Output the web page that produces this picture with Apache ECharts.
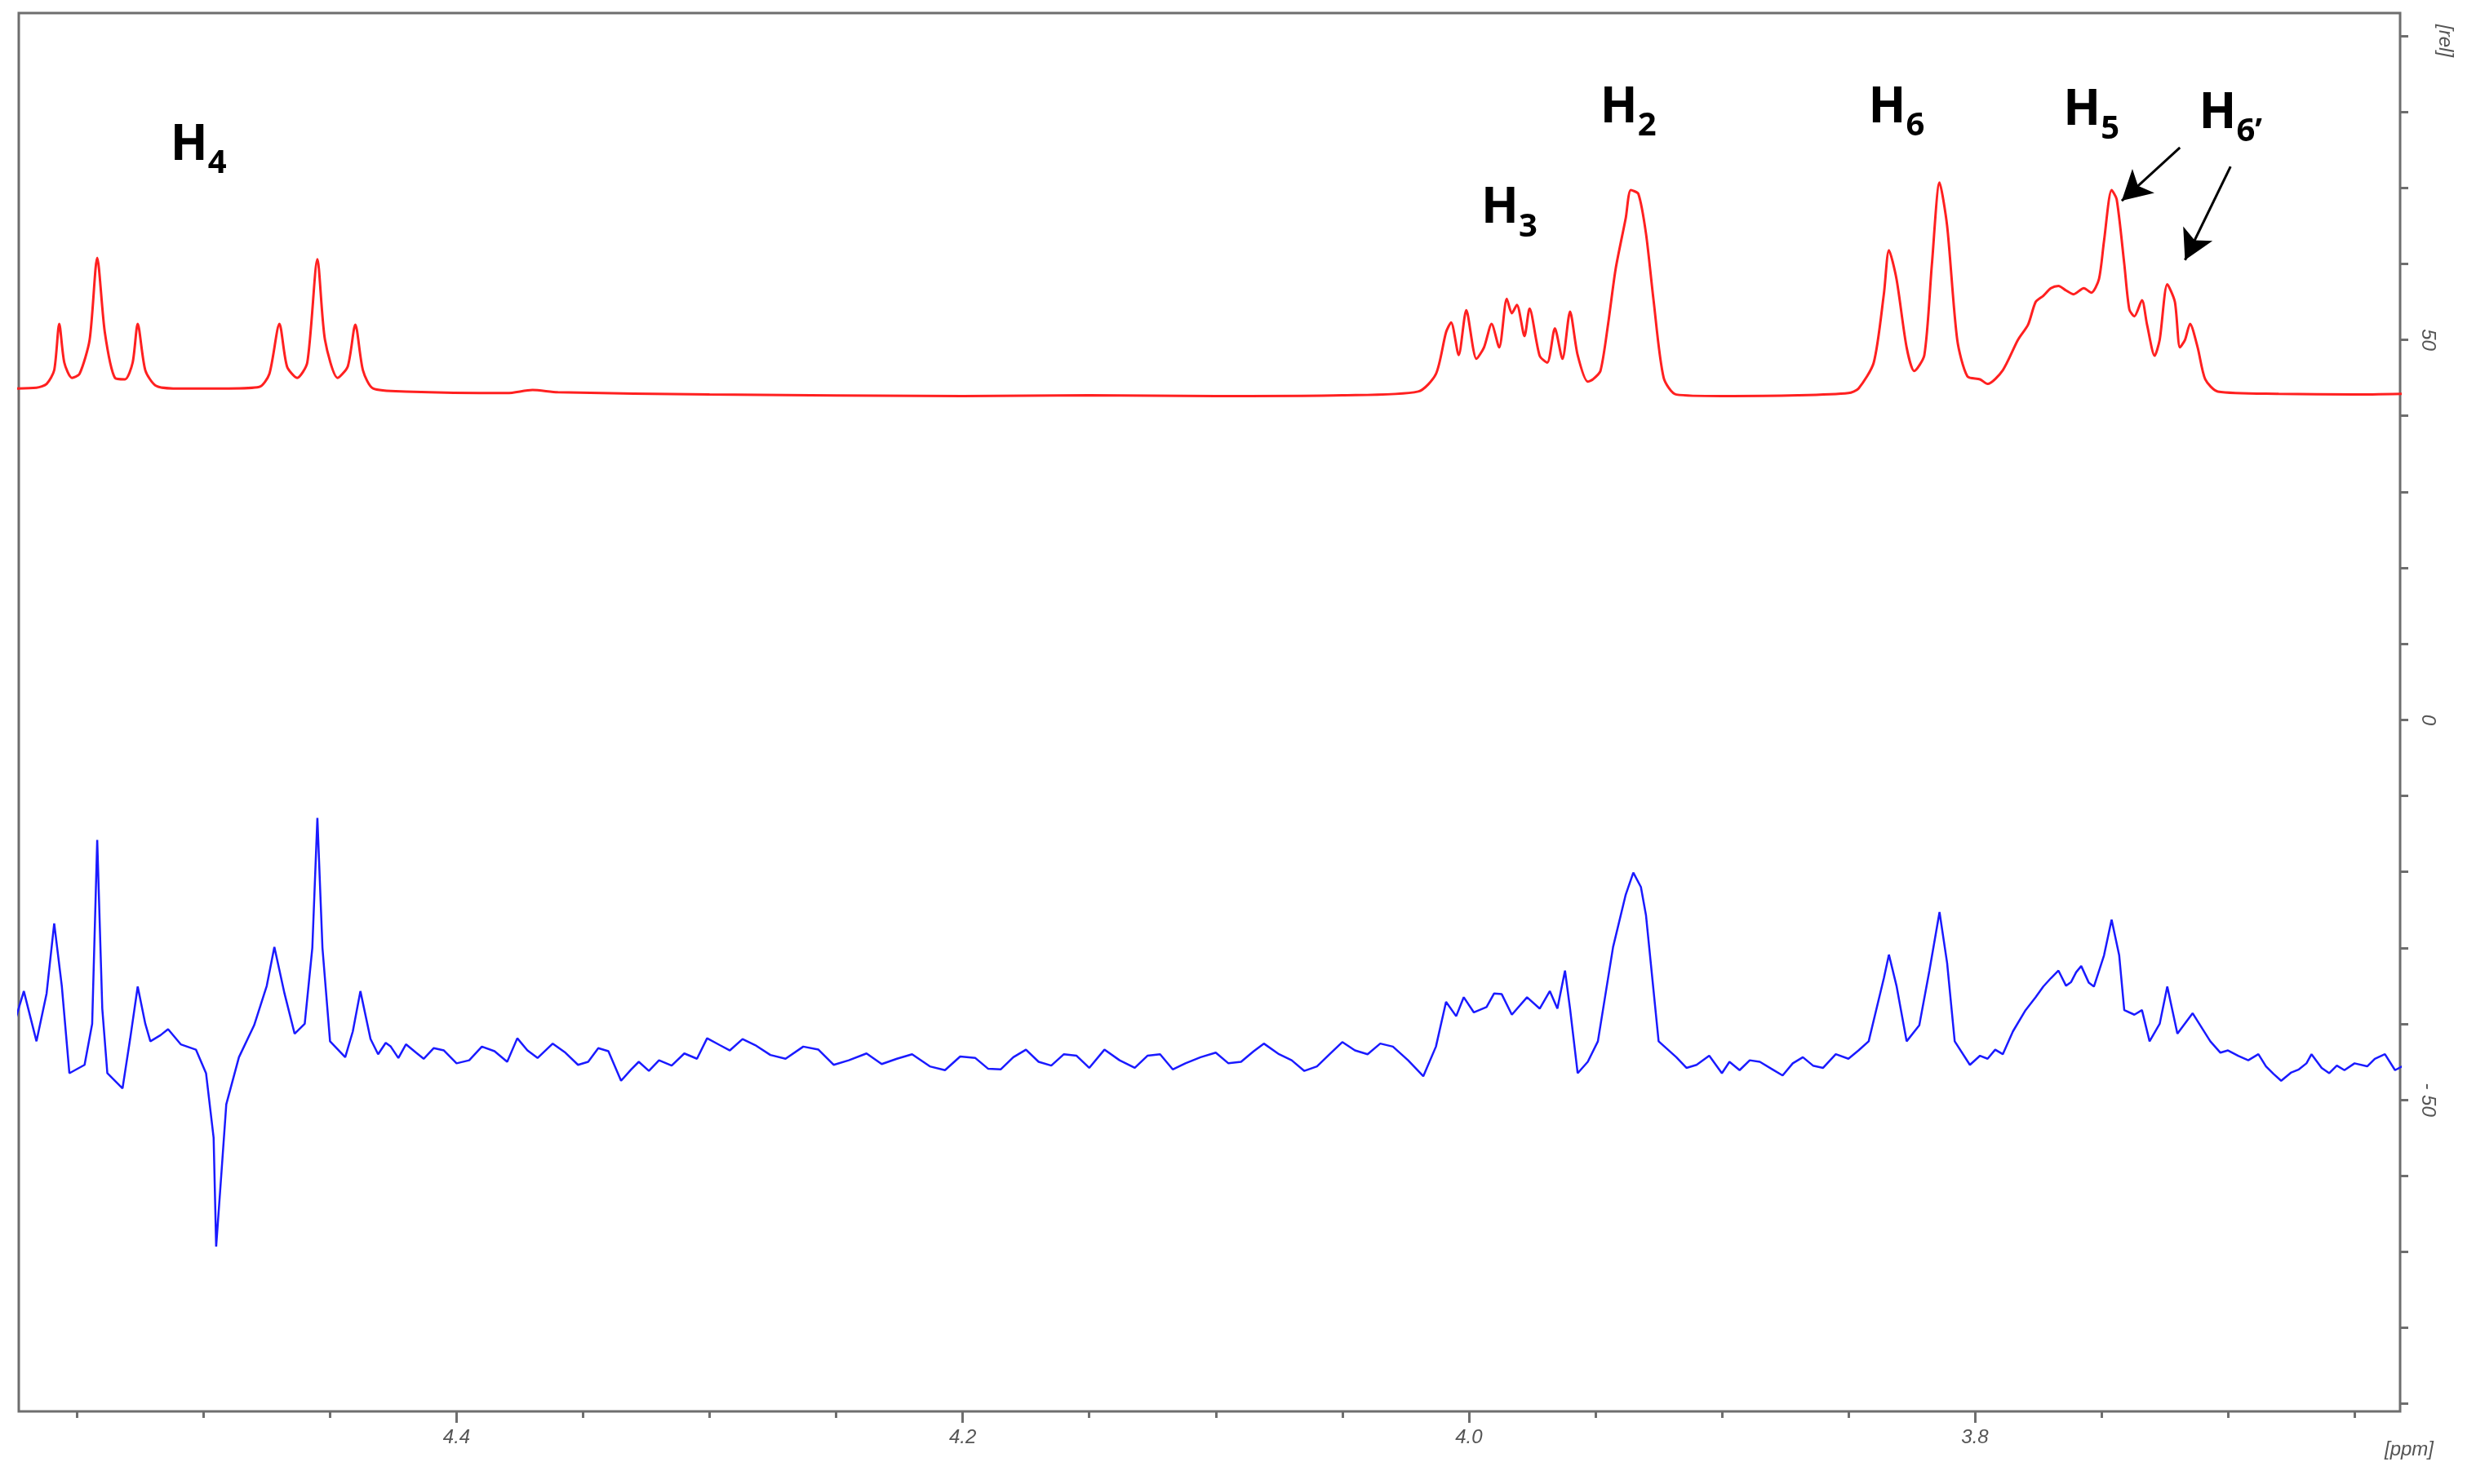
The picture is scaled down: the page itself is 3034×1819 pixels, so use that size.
<!DOCTYPE html>
<html><head><meta charset="utf-8">
<script src="https://cdn.jsdelivr.net/npm/echarts@6/dist/echarts.min.js"></script>
<style>html,body{margin:0;padding:0;background:#fff}#c{width:3034px;height:1819px}</style>
</head><body><div id="c"></div>
<script>
const xMajorTicks = [3.8, 4.0, 4.2, 4.4];
const xMinorTicks = [3.65,3.7,3.75,3.8,3.85,3.9,3.95,4.0,4.05,4.1,4.15,4.2,4.25,4.3,4.35,4.4,4.45,4.5,4.55];
const yMajorTicks = [-50, 0, 50];
const yMinorTicks = [-90,-80,-70,-60,-50,-40,-30,-20,-10,0,10,20,30,40,50,60,70,80,90];

const redSpectrum = [
[4.576,43.6],[4.566,43.7],[4.562,44.2],[4.559,46],[4.557,52.1],[4.555,47],[4.552,45],[4.549,45.5],[4.545,50],[4.542,60.8],[4.539,51],[4.535,45],[4.531,44.8],[4.528,47],[4.526,52.1],[4.523,46],[4.519,44],[4.512,43.6],[4.49,43.6],[4.478,43.8],[4.474,45.5],[4.470,52.1],[4.467,46.5],[4.463,45],[4.459,47],[4.455,60.6],[4.452,50],[4.447,45],[4.443,46.5],[4.440,52],[4.437,46],[4.433,43.6],[4.42,43.2],
[4.38,43],[4.37,43.4],[4.36,43.1],[4.30,42.8],[4.20,42.6],[4.15,42.7],[4.10,42.6],[4.05,42.7],[4.02,43.2],[4.013,45.5],
[4.009,51],[4.007,52.3],[4.004,48],[4.001,53.9],[3.997,47.5],[3.994,49],[3.991,52.1],[3.988,49],[3.985,55.4],[3.983,53.5],[3.981,54.6],[3.978,50.5],[3.976,54.1],[3.972,47.9],[3.969,47],[3.966,51.5],[3.963,47.5],[3.960,53.7],[3.957,48],[3.953,44.5],[3.951,44.8],
[3.948,45.9],[3.945,52],[3.942,59.3],[3.938,66],[3.936,69.7],[3.933,69.2],[3.930,64],[3.927,55.2],[3.923,45],[3.918,42.8],
[3.90,42.6],[3.87,42.7],[3.85,43],[3.846,43.6],[3.840,47],[3.836,56],[3.834,61.8],[3.831,58],[3.827,49],[3.824,45.9],[3.820,48],[3.817,60],[3.814,70.7],[3.811,65],[3.807,50],[3.803,45.2],[3.798,44.8],[3.795,44.2],
[3.789,46],[3.783,50],[3.779,52],[3.776,55],[3.773,55.8],[3.770,56.8],[3.767,57.1],[3.764,56.5],[3.761,56],[3.757,56.8],[3.754,56.2],[3.751,58],[3.749,63],[3.746,69.7],[3.744,68.5],[3.741,60],[3.739,54],[3.737,53.1],[3.734,55.2],[3.732,52],[3.729,47.9],[3.727,50],[3.724,57.3],[3.721,55],[3.719,49],[3.717,50],[3.715,52.1],[3.712,49],[3.709,44.8],[3.704,43.2],[3.68,42.9],[3.65,42.8],[3.630,42.9]
];

const blueSpectrum = [
[4.576,-41.3],[4.571,-35.7],[4.566,-42.3],[4.562,-36],[4.559,-26.8],[4.556,-35],[4.553,-46.5],[4.547,-45.4],[4.544,-40],[4.542,-15.8],[4.540,-38],[4.538,-46.5],[4.532,-48.5],[4.529,-42],[4.526,-35.1],[4.523,-40],[4.521,-42.3],[4.517,-41.5],[4.514,-40.7],[4.509,-42.7],[4.503,-43.4],[4.499,-46.5],[4.496,-55],[4.495,-69.3],[4.493,-60],[4.491,-50.6],[4.486,-44.4],[4.480,-40.2],[4.475,-35],[4.472,-29.9],[4.468,-36],[4.464,-41.3],[4.460,-40],[4.457,-30],[4.455,-12.9],[4.453,-30],[4.450,-42.3],[4.444,-44.4],[4.441,-41],[4.438,-35.7],[4.434,-42],[4.431,-44],[4.428,-42.5],[4.426,-43],[4.423,-44.5],[4.420,-42.7],[4.416,-43.8],[4.413,-44.6],[4.409,-43.2],[4.405,-43.5],[4.400,-45.2],[4.395,-44.8],[4.390,-43],[4.385,-43.6],[4.380,-45],[4.376,-41.9],[4.372,-43.5],[4.368,-44.5],[4.362,-42.6],[4.357,-43.8],[4.352,-45.4],[4.348,-45],[4.344,-43.2],[4.340,-43.6],[4.335,-47.5],[4.331,-46],[4.328,-45],[4.324,-46.2],[4.320,-44.8],[4.315,-45.5],[4.310,-43.9],[4.305,-44.6],[4.301,-41.9],[4.296,-42.8],[4.292,-43.5],[4.287,-42],[4.282,-42.8],[4.276,-44.1],[4.270,-44.6],[4.263,-43],[4.257,-43.4],[4.251,-45.4],[4.245,-44.8],[4.238,-43.9],[4.232,-45.3],[4.226,-44.6],[4.220,-44],[4.213,-45.6],[4.207,-46.1],[4.201,-44.3],[4.195,-44.5],[4.190,-45.9],[4.185,-46],[4.180,-44.4],[4.175,-43.4],[4.170,-45],[4.165,-45.5],[4.160,-44],[4.155,-44.2],[4.150,-45.8],[4.144,-43.4],[4.138,-44.8],[4.132,-45.8],[4.127,-44.2],[4.122,-44],[4.117,-46],[4.112,-45.2],[4.106,-44.4],[4.100,-43.8],[4.095,-45.2],[4.090,-45],[4.085,-43.6],[4.081,-42.6],[4.075,-44],[4.070,-44.8],[4.065,-46.2],[4.060,-45.6],[4.055,-44],[4.050,-42.4],[4.045,-43.5],[4.040,-44],[4.035,-42.6],[4.030,-43],[4.024,-44.8],[4.018,-46.9],[4.013,-43],
[4.009,-37.1],[4.005,-39],[4.002,-36.5],[3.998,-38.5],[3.993,-37.8],[3.990,-36],[3.987,-36.1],[3.983,-38.8],[3.977,-36.5],[3.972,-38],[3.968,-35.7],[3.965,-38],[3.962,-33],[3.960,-38],[3.957,-46.5],[3.953,-45],[3.949,-42.3],[3.943,-29.9],[3.938,-23],[3.935,-20.1],[3.932,-22],[3.930,-25.7],[3.925,-42.3],[3.918,-44.4],[3.914,-45.8],[3.91,-45.4],[3.905,-44.2],[3.90,-46.5],[3.897,-45],[3.893,-46.1],[3.889,-44.8],[3.885,-45],[3.880,-46],[3.876,-46.8],[3.872,-45.2],[3.868,-44.4],[3.864,-45.5],[3.86,-45.8],[3.855,-44],[3.850,-44.6],[3.846,-43.5],[3.842,-42.3],
[3.836,-34],[3.834,-30.9],[3.831,-35],[3.827,-42.3],[3.822,-40.2],[3.818,-33],[3.814,-25.3],[3.811,-32],[3.808,-42.3],[3.802,-45.4],[3.798,-44.2],[3.795,-44.6],[3.792,-43.4],[3.789,-44],[3.785,-41],[3.780,-38.2],[3.776,-36.5],[3.773,-35.1],[3.770,-34],[3.767,-33],[3.764,-35],[3.762,-34.5],[3.760,-33.2],[3.758,-32.4],[3.755,-34.6],[3.753,-35.1],[3.749,-31],[3.746,-26.3],[3.743,-31],[3.741,-38.2],[3.737,-38.8],[3.734,-38.2],[3.731,-42.3],[3.727,-40],[3.724,-35.1],[3.720,-41.3],[3.714,-38.6],[3.707,-42.3],[3.703,-43.8],[3.700,-43.5],[3.696,-44.2],[3.692,-44.8],[3.688,-44],[3.685,-45.6],[3.682,-46.6],[3.679,-47.5],[3.675,-46.4],[3.672,-46],[3.669,-45.2],[3.667,-44],[3.663,-45.8],[3.660,-46.5],[3.657,-45.5],[3.654,-46.1],[3.650,-45.2],[3.645,-45.6],[3.642,-44.6],[3.638,-44],[3.634,-46.1],[3.630,-45.4]
];

const peakLabels = [
  {name:'H', sub:'4', coord:[4.502,75.5]},
  {name:'H', sub:'3', coord:[3.984,67.2]},
  {name:'H', sub:'2', coord:[3.937,80.5]},
  {name:'H', sub:'6', coord:[3.831,80.5]},
  {name:'H', sub:'5', coord:[3.754,80.1]},
  {name:'H', sub:'6’', coord:[3.699,79.7]}
];
const arrows = [
  [[3.719,75.3],[3.742,68.3]],
  [[3.699,72.8],[3.717,60.5]]
];

const gray = '#6e6e6e';
const X_MIN = 3.632, X_MAX = 4.573;
const chart = echarts.init(document.getElementById('c'));
chart.setOption({
  animation:false,
  backgroundColor:'#fff',
  grid:{show:true, borderColor:gray, borderWidth:3, backgroundColor:'#fff', left:23, right:93, top:16, bottom:89},
  xAxis:[{
    type:'value', inverse:true, min:X_MIN, max:X_MAX, position:'bottom',
    axisLine:{show:false, onZero:false}, splitLine:{show:false},
    axisTick:{show:true, customValues:xMajorTicks, length:14, lineStyle:{color:gray,width:3}},
    axisLabel:{customValues:xMajorTicks, formatter:v=>v.toFixed(1), color:'#555', fontSize:24, fontStyle:'italic', fontFamily:'Liberation Sans', margin:20}
  },{
    type:'value', inverse:true, min:X_MIN, max:X_MAX, position:'bottom',
    axisLine:{show:false, onZero:false}, splitLine:{show:false},
    axisTick:{show:true, customValues:xMinorTicks, length:8, lineStyle:{color:gray,width:3}},
    axisLabel:{show:false}
  }],
  yAxis:[{
    type:'value', min:-91, max:93, position:'right',
    axisLine:{show:false, onZero:false}, splitLine:{show:false},
    axisTick:{show:true, customValues:yMajorTicks, length:10, lineStyle:{color:gray,width:3}},
    axisLabel:{customValues:yMajorTicks, formatter:v=>v<0?'- '+(-v):String(v), rotate:-90, color:'#555', fontSize:24, fontStyle:'italic', fontFamily:'Liberation Sans', margin:22}
  },{
    type:'value', min:-91, max:93, position:'right',
    axisLine:{show:false, onZero:false}, splitLine:{show:false},
    axisTick:{show:true, customValues:yMinorTicks, length:10, lineStyle:{color:gray,width:3}},
    axisLabel:{show:false}
  }],
  series:[{
    type:'line', data:redSpectrum, symbol:'none', smooth:0.25,
    lineStyle:{color:'#ff2020', width:3}, z:3,
    markPoint:{
      symbol:'circle', symbolSize:1, itemStyle:{color:'transparent'},
      label:{show:true, position:'inside', formatter:p=>'{h|H}{s|'+p.data.sub+'}',
        rich:{h:{fontSize:60, fontWeight:'bold', fontFamily:'Open Sans', color:'#000'},
              s:{fontSize:40, fontWeight:'bold', fontFamily:'Open Sans', color:'#000', verticalAlign:'bottom', padding:[44,0,0,0]}}},
      data: peakLabels.map(d=>({coord:d.coord, sub:d.sub}))
    },
    markLine:{
      silent:true, symbol:['none','arrow'], symbolSize:[30,36],
      lineStyle:{color:'#000', width:3, type:'solid'}, label:{show:false},
      data: arrows.map(a=>[{coord:a[0]},{coord:a[1]}])
    }
  },{
    type:'line', data:blueSpectrum, symbol:'none',
    lineStyle:{color:'#1a1aff', width:2.5}, z:3
  }],
  graphic:[
    {type:'text', right:52, bottom:30, style:{text:'[ppm]', fontSize:24, fontStyle:'italic', fontFamily:'Liberation Sans', fill:'#555'}},
    {type:'text', right:26, top:30, rotation:-Math.PI/2, style:{text:'[rel]', fontSize:24, fontStyle:'italic', fontFamily:'Liberation Sans', fill:'#555'}}
  ]
});
</script></body></html>
